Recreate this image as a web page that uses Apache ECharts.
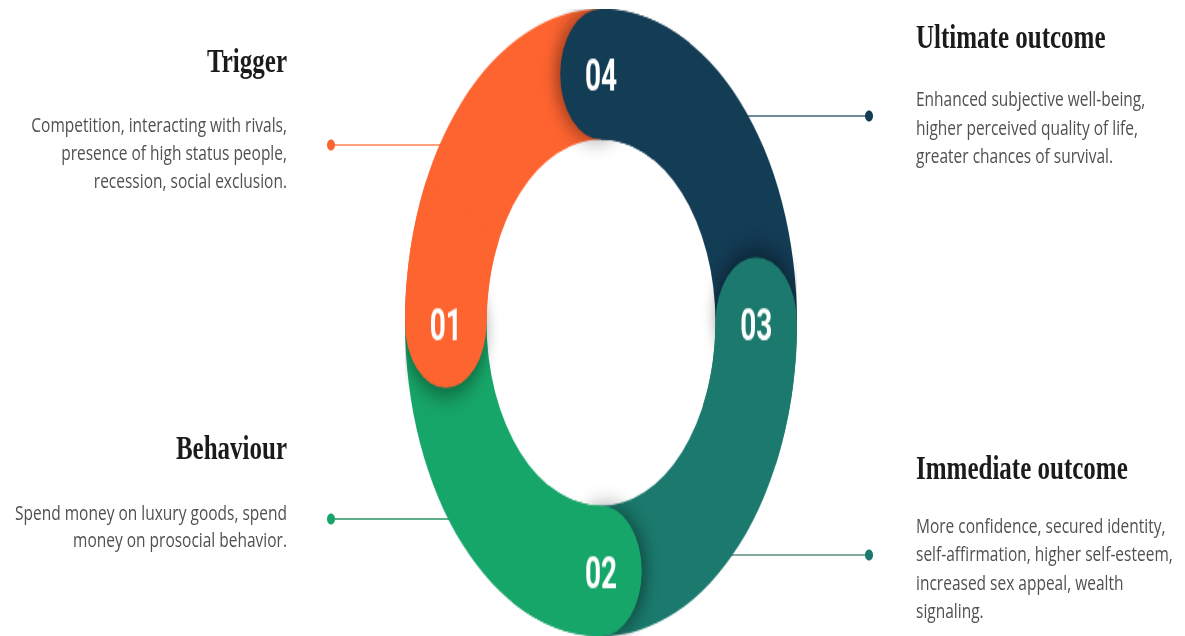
<!DOCTYPE html>
<html>
<head>
<meta charset="utf-8">
<script src="https://cdn.jsdelivr.net/npm/echarts@6/dist/echarts.min.js"></script>
<style>
html,body{margin:0;padding:0;background:#ffffff;width:1185px;height:636px;overflow:hidden;}
#notes{position:absolute;left:0;top:0;width:1185px;height:636px;}
#ring{position:absolute;left:405px;top:9px;width:392px;height:392px;transform:scaleY(1.6);transform-origin:0 0;}
</style>
</head>
<body>
<div id="notes"></div>
<div id="ring"></div>
<script>
// ---- data ----
const categories = ['01', '02', '03', '04'];
const shares = [25, 25, 25, 25];
const stepTitles = ['Trigger', 'Behaviour', 'Immediate outcome', 'Ultimate outcome'];
const stepTexts = [
  ['Competition, interacting with rivals,', 'presence of high status people,', 'recession, social exclusion.'],
  ['Spend money on luxury goods, spend', 'money on prosocial behavior.'],
  ['More confidence, secured identity,', 'self-affirmation, higher self-esteem,', 'increased sex appeal, wealth', 'signaling.'],
  ['Enhanced subjective well-being,', 'higher perceived quality of life,', 'greater chances of survival.']
];

// ---- styles ----
const palette = ['#FE6430', '#17A669', '#1B7A6D', '#133C55'];
const lineColors = ['#FFA17F', '#5DAF8C', '#86A99F', '#6F8A9B'];
const INNER = 0.584;
const RING_PX = 392;
const COVER = 7.5; // share units of each segment end redrawn above the cap shadows

// ---- ring chart ----
const ring = echarts.init(document.getElementById('ring'));
const total = shares.reduce((a, b) => a + b, 0);
let cum = 0;
const capPoints = shares.map((v, i) => {
  cum += v;
  const phi = (90 + cum / total * 360) * Math.PI / 180;
  return { name: categories[i], value: [(1 + INNER) / 2, cum], tx: -Math.sin(phi), ty: -Math.cos(phi), color: palette[i] };
});
const capSize = RING_PX / 2 * (1 - INNER);
const pieBase = {
  type: 'pie', center: ['50%', '50%'], radius: [INNER * 100 + '%', '100%'],
  startAngle: 90, clockwise: false, silent: true,
  label: { show: false }, labelLine: { show: false }, emphasis: { disabled: true },
  itemStyle: { borderWidth: 0 }
};

ring.setOption({
  animation: false,
  polar: { center: ['50%', '50%'], radius: '100%' },
  angleAxis: { type: 'value', min: 0, max: total, startAngle: 90, clockwise: false, show: false },
  radiusAxis: { type: 'value', min: 0, max: 1, show: false },
  series: [
    Object.assign({}, pieBase, {
      z: 1,
      data: shares.map((v, i) => ({ name: categories[i], value: v, itemStyle: { color: palette[i] } }))
    }),
    {
      type: 'scatter', coordinateSystem: 'polar', symbol: 'circle', symbolSize: capSize,
      silent: true, z: 2,
      itemStyle: { shadowBlur: 14, shadowColor: 'rgba(0,0,0,0.38)', opacity: 1 },
      label: { show: false },
      data: capPoints.map(p => ({ name: p.name, value: p.value,
        itemStyle: { color: p.color, shadowOffsetX: p.tx * 5, shadowOffsetY: p.ty * 5 } }))
    },
    Object.assign({}, pieBase, {
      z: 3,
      data: shares.flatMap((v, i) => [
        { name: 'gap' + i, value: v - COVER, itemStyle: { color: 'rgba(0,0,0,0)' } },
        { name: categories[i] + 'end', value: COVER, itemStyle: { color: palette[i] } }
      ])
    }),
    {
      type: 'scatter', coordinateSystem: 'polar', symbol: 'circle', symbolSize: capSize,
      silent: true, z: 4,
      itemStyle: { color: 'rgba(0,0,0,0)', opacity: 1 },
      label: { show: true, position: 'inside', formatter: '{b}', color: '#ffffff', opacity: 1,
               offset: [0, 3.5], textBorderWidth: 0,
               fontFamily: 'Roboto', fontWeight: 'bold', fontSize: 28 },
      data: capPoints.map(p => ({ name: p.name, value: p.value }))
    }
  ]
});

// ---- notes chart ----
const notes = echarts.init(document.getElementById('notes'));
const layout = [
  { x: 287, align: 'right', titleY: 63.5, bodyY: 126.5, lead: 28, dot: [331, 145], lineEnd: 480 },
  { x: 287, align: 'right', titleY: 450, bodyY: 514.5, lead: 27, dot: [331, 519], lineEnd: 520 },
  { x: 916, align: 'left', titleY: 470, bodyY: 527, lead: 28.5, dot: [869, 555], lineEnd: 700 },
  { x: 916, align: 'left', titleY: 39, bodyY: 100.5, lead: 28.5, dot: [869, 116], lineEnd: 700 }
];
const graphics = [];
stepTitles.forEach((t, i) => {
  const L = layout[i];
  graphics.push({
    type: 'text', x: L.x, y: L.titleY, scaleY: 1.39, silent: true,
    style: { text: t, fill: '#1b1b1b', font: 'bold 25px "Liberation Serif"',
             textAlign: L.align, textVerticalAlign: 'middle' }
  });
  stepTexts[i].forEach((line, k) => {
    graphics.push({
      type: 'text', x: L.x, y: L.bodyY + k * L.lead, scaleY: 1.3, silent: true,
      style: { text: line, fill: '#505050', font: '15.5px "Open Sans"',
               textAlign: L.align, textVerticalAlign: 'middle' }
    });
  });
  graphics.push({
    type: 'line', silent: true,
    shape: { x1: L.dot[0], y1: L.dot[1], x2: L.lineEnd, y2: L.dot[1] },
    style: { stroke: lineColors[i], lineWidth: 2.2 }
  });
  graphics.push({
    type: 'ellipse', silent: true,
    shape: { cx: L.dot[0], cy: L.dot[1], rx: 4, ry: 5.5 },
    style: { fill: palette[i] }
  });
});
notes.setOption({ animation: false, graphic: graphics });
</script>
</body>
</html>
